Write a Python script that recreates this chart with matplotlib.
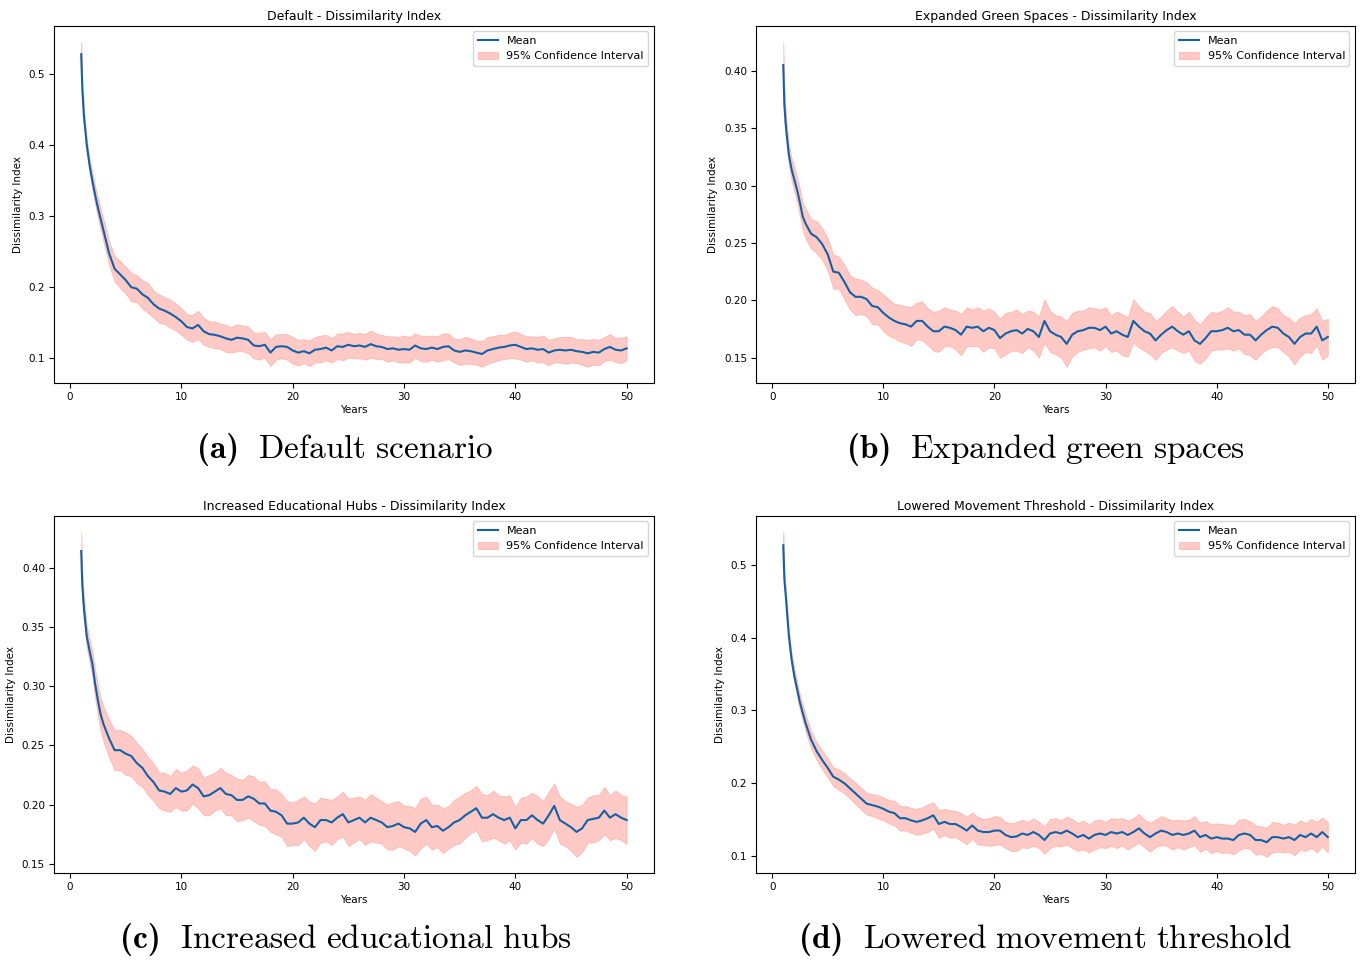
import os
import numpy as np
import matplotlib
matplotlib.use("Agg")
import matplotlib.pyplot as plt
from matplotlib.ticker import MultipleLocator
from matplotlib.font_manager import FontProperties
from matplotlib.offsetbox import TextArea, HPacker, AnnotationBbox

plt.rcParams['mathtext.fontset'] = 'cm'

# time axis (years); finer steps at the start where the curve drops fast
years = [1.0, 1.1, 1.25, 1.5, 1.75, 2.0, 2.25, 2.5, 2.75, 3.0] + list(np.arange(3.5, 50.01, 0.5))

titles = ['Default - Dissimilarity Index',
          'Expanded Green Spaces - Dissimilarity Index',
          'Increased Educational Hubs - Dissimilarity Index',
          'Lowered Movement Threshold - Dissimilarity Index']

cap_tags = ['(a)', '(b)', '(c)', '(d)']
cap_texts = ['Default scenario', 'Expanded green spaces',
             'Increased educational hubs', 'Lowered movement threshold']

mean_default = [
    0.528, 0.480, 0.440, 0.400, 0.372, 0.350, 0.330, 0.312, 0.296, 0.280,
    0.248, 0.226, 0.218, 0.210, 0.200, 0.198, 0.190, 0.185, 0.176, 0.170,
    0.167, 0.163, 0.158, 0.152, 0.144, 0.142, 0.147, 0.138, 0.134, 0.133,
    0.131, 0.128, 0.126, 0.129, 0.128, 0.126, 0.118, 0.117, 0.119, 0.108,
    0.116, 0.117, 0.116, 0.111, 0.108, 0.110, 0.107, 0.112, 0.113, 0.115,
    0.111, 0.117, 0.116, 0.119, 0.117, 0.118, 0.116, 0.120, 0.117, 0.116,
    0.113, 0.114, 0.112, 0.113, 0.112, 0.118, 0.114, 0.113, 0.115, 0.113,
    0.116, 0.117, 0.111, 0.109, 0.111, 0.110, 0.108, 0.106, 0.111, 0.113,
    0.115, 0.116, 0.118, 0.119, 0.116, 0.113, 0.114, 0.112, 0.113, 0.108,
    0.111, 0.112, 0.111, 0.112, 0.110, 0.109, 0.107, 0.109, 0.108, 0.113,
    0.116, 0.112, 0.111, 0.114]
ci_default = [
    0.017, 0.012, 0.010, 0.009, 0.010, 0.012, 0.013, 0.014, 0.015, 0.016,
    0.017, 0.018, 0.019, 0.019, 0.020, 0.019, 0.020, 0.021, 0.019, 0.020,
    0.019, 0.020, 0.019, 0.019, 0.018, 0.019, 0.020, 0.019, 0.018, 0.019,
    0.018, 0.019, 0.018, 0.019, 0.018, 0.019, 0.018, 0.019, 0.018, 0.019,
    0.018, 0.017, 0.018, 0.019, 0.018, 0.017, 0.018, 0.018, 0.019, 0.018,
    0.017, 0.018, 0.019, 0.018, 0.017, 0.018, 0.018, 0.019, 0.018, 0.017,
    0.018, 0.017, 0.018, 0.019, 0.018, 0.017, 0.018, 0.018, 0.017, 0.018,
    0.019, 0.018, 0.017, 0.018, 0.019, 0.018, 0.017, 0.018, 0.019, 0.018,
    0.018, 0.017, 0.018, 0.019, 0.018, 0.018, 0.017, 0.018, 0.019, 0.018,
    0.017, 0.018, 0.019, 0.018, 0.017, 0.018, 0.019, 0.018, 0.018, 0.017,
    0.018, 0.017, 0.018, 0.017]

mean_green = [
    0.405, 0.370, 0.350, 0.327, 0.314, 0.305, 0.296, 0.285, 0.273, 0.267,
    0.258, 0.255, 0.249, 0.240, 0.225, 0.224, 0.216, 0.207, 0.203, 0.203,
    0.201, 0.195, 0.194, 0.189, 0.185, 0.182, 0.180, 0.179, 0.177, 0.182,
    0.182, 0.177, 0.173, 0.173, 0.177, 0.176, 0.174, 0.170, 0.177, 0.176,
    0.177, 0.173, 0.176, 0.174, 0.167, 0.171, 0.173, 0.174, 0.171, 0.175,
    0.173, 0.168, 0.182, 0.173, 0.170, 0.168, 0.162, 0.170, 0.173, 0.174,
    0.176, 0.176, 0.174, 0.177, 0.171, 0.173, 0.170, 0.168, 0.182, 0.177,
    0.173, 0.171, 0.165, 0.170, 0.174, 0.177, 0.173, 0.170, 0.173, 0.165,
    0.162, 0.167, 0.173, 0.173, 0.174, 0.176, 0.173, 0.174, 0.170, 0.170,
    0.165, 0.170, 0.174, 0.177, 0.176, 0.171, 0.168, 0.162, 0.168, 0.171,
    0.171, 0.177, 0.165, 0.168]
ci_green = [
    0.020, 0.014, 0.010, 0.009, 0.010, 0.011, 0.011, 0.012, 0.012, 0.013,
    0.013, 0.014, 0.014, 0.014, 0.015, 0.014, 0.015, 0.015, 0.016, 0.015,
    0.015, 0.016, 0.015, 0.016, 0.016, 0.015, 0.016, 0.016, 0.017, 0.016,
    0.017, 0.016, 0.017, 0.018, 0.017, 0.016, 0.017, 0.018, 0.017, 0.016,
    0.017, 0.018, 0.017, 0.016, 0.017, 0.018, 0.017, 0.018, 0.017, 0.016,
    0.017, 0.018, 0.019, 0.018, 0.017, 0.018, 0.020, 0.019, 0.018, 0.017,
    0.018, 0.017, 0.018, 0.017, 0.016, 0.017, 0.018, 0.017, 0.019, 0.018,
    0.017, 0.018, 0.017, 0.016, 0.017, 0.018, 0.017, 0.016, 0.017, 0.018,
    0.017, 0.018, 0.017, 0.016, 0.017, 0.018, 0.017, 0.016, 0.017, 0.018,
    0.017, 0.016, 0.017, 0.018, 0.017, 0.016, 0.017, 0.018, 0.017, 0.016,
    0.017, 0.016, 0.017, 0.016]

mean_edu = [
    0.414, 0.385, 0.365, 0.342, 0.330, 0.319, 0.302, 0.288, 0.276, 0.268,
    0.256, 0.246, 0.246, 0.243, 0.241, 0.235, 0.231, 0.224, 0.219, 0.212,
    0.211, 0.209, 0.214, 0.211, 0.212, 0.217, 0.214, 0.207, 0.208, 0.211,
    0.214, 0.209, 0.208, 0.204, 0.204, 0.207, 0.205, 0.201, 0.201, 0.195,
    0.194, 0.191, 0.184, 0.184, 0.185, 0.189, 0.184, 0.181, 0.187, 0.187,
    0.185, 0.189, 0.192, 0.185, 0.187, 0.189, 0.185, 0.189, 0.187, 0.185,
    0.181, 0.182, 0.184, 0.181, 0.180, 0.177, 0.184, 0.187, 0.181, 0.182,
    0.178, 0.181, 0.185, 0.187, 0.191, 0.194, 0.197, 0.189, 0.189, 0.192,
    0.189, 0.187, 0.189, 0.180, 0.187, 0.187, 0.191, 0.187, 0.184, 0.191,
    0.199, 0.187, 0.184, 0.181, 0.177, 0.180, 0.187, 0.188, 0.189, 0.195,
    0.189, 0.192, 0.189, 0.187]
ci_edu = [
    0.016, 0.012, 0.010, 0.009, 0.010, 0.011, 0.012, 0.013, 0.014, 0.015,
    0.016, 0.017, 0.017, 0.018, 0.017, 0.017, 0.016, 0.016, 0.016, 0.015,
    0.016, 0.015, 0.016, 0.016, 0.017, 0.016, 0.017, 0.016, 0.017, 0.016,
    0.017, 0.018, 0.017, 0.018, 0.017, 0.018, 0.019, 0.018, 0.019, 0.018,
    0.019, 0.018, 0.019, 0.018, 0.019, 0.018, 0.019, 0.020, 0.019, 0.018,
    0.019, 0.018, 0.019, 0.020, 0.019, 0.018, 0.019, 0.020, 0.019, 0.018,
    0.019, 0.020, 0.019, 0.018, 0.019, 0.020, 0.021, 0.020, 0.019, 0.018,
    0.019, 0.018, 0.019, 0.020, 0.019, 0.018, 0.019, 0.020, 0.019, 0.020,
    0.019, 0.020, 0.019, 0.018, 0.019, 0.020, 0.019, 0.020, 0.019, 0.020,
    0.019, 0.020, 0.019, 0.020, 0.021, 0.020, 0.019, 0.020, 0.019, 0.020,
    0.019, 0.020, 0.019, 0.020]

mean_move = [
    0.527, 0.480, 0.453, 0.403, 0.370, 0.347, 0.329, 0.311, 0.297, 0.283,
    0.260, 0.244, 0.232, 0.221, 0.209, 0.205, 0.200, 0.193, 0.186, 0.179,
    0.172, 0.170, 0.168, 0.165, 0.161, 0.159, 0.152, 0.152, 0.149, 0.147,
    0.149, 0.152, 0.156, 0.144, 0.147, 0.144, 0.144, 0.140, 0.135, 0.142,
    0.135, 0.133, 0.133, 0.135, 0.135, 0.129, 0.126, 0.127, 0.131, 0.129,
    0.133, 0.129, 0.122, 0.131, 0.133, 0.131, 0.135, 0.131, 0.126, 0.129,
    0.124, 0.129, 0.131, 0.129, 0.133, 0.131, 0.133, 0.129, 0.133, 0.138,
    0.131, 0.126, 0.131, 0.135, 0.133, 0.129, 0.131, 0.129, 0.131, 0.135,
    0.126, 0.129, 0.124, 0.126, 0.124, 0.124, 0.122, 0.129, 0.131, 0.129,
    0.122, 0.122, 0.119, 0.126, 0.126, 0.124, 0.126, 0.122, 0.129, 0.126,
    0.131, 0.126, 0.133, 0.126]
ci_move = [
    0.018, 0.012, 0.009, 0.008, 0.009, 0.010, 0.010, 0.011, 0.011, 0.012,
    0.012, 0.012, 0.013, 0.013, 0.013, 0.014, 0.014, 0.014, 0.015, 0.015,
    0.015, 0.015, 0.016, 0.016, 0.016, 0.017, 0.017, 0.017, 0.017, 0.018,
    0.018, 0.019, 0.018, 0.019, 0.018, 0.019, 0.018, 0.019, 0.019, 0.018,
    0.019, 0.018, 0.019, 0.020, 0.019, 0.018, 0.019, 0.020, 0.019, 0.018,
    0.019, 0.018, 0.019, 0.020, 0.019, 0.018, 0.019, 0.020, 0.019, 0.020,
    0.019, 0.020, 0.019, 0.018, 0.019, 0.020, 0.019, 0.020, 0.019, 0.020,
    0.019, 0.020, 0.019, 0.020, 0.019, 0.020, 0.019, 0.020, 0.019, 0.020,
    0.020, 0.019, 0.020, 0.019, 0.020, 0.019, 0.020, 0.021, 0.020, 0.019,
    0.020, 0.019, 0.020, 0.021, 0.020, 0.019, 0.020, 0.021, 0.020, 0.019,
    0.020, 0.021, 0.020, 0.021]

means = [mean_default, mean_green, mean_edu, mean_move]
cis = [ci_default, ci_green, ci_edu, ci_move]
ystep = [0.1, 0.05, 0.05, 0.1]

# axes boxes in figure fractions: left, bottom, width, height
boxes = [[0.0396, 0.601, 0.4405, 0.372],
         [0.5551, 0.601, 0.4398, 0.372],
         [0.0396, 0.0906, 0.4405, 0.372],
         [0.5551, 0.0906, 0.4398, 0.372]]
caption_xy = [(0.2535, 0.532), (0.768, 0.532), (0.254, 0.0215), (0.768, 0.0215)]

# bold Computer Modern for the "(a)" tags, shipped with matplotlib
cmb = FontProperties(fname=os.path.join(matplotlib.get_data_path(), 'fonts', 'ttf', 'cmb10.ttf'),
                     size=24)

fig = plt.figure(figsize=(13.62, 9.6), dpi=100)

for i in range(4):
    ax = fig.add_axes(boxes[i])
    m = np.array(means[i])
    c = np.array(cis[i])
    ax.plot(years, m, color='#1261a6', lw=1.5, label='Mean')
    ax.fill_between(years, m - c, m + c, color='#ff8a80', alpha=0.45, lw=0.6,
                    label='95% Confidence Interval')
    ax.set_title(titles[i], fontsize=9, pad=4)
    ax.set_xlabel('Years', fontsize=7.5, labelpad=2)
    ax.set_ylabel('Dissimilarity Index', fontsize=7.5, labelpad=4)
    ax.xaxis.set_major_locator(MultipleLocator(10))
    ax.yaxis.set_major_locator(MultipleLocator(ystep[i]))
    ax.tick_params(labelsize=7.5, length=3.5, pad=3)
    ax.legend(loc='upper right', fontsize=8, handlelength=1.8)

    # sub-figure caption: bold tag + roman text
    tag = TextArea(cap_tags[i], textprops=dict(fontproperties=cmb))
    body = TextArea(r'$\mathrm{' + cap_texts[i].replace(' ', r'\ ') + '}$',
                    textprops=dict(fontsize=24))
    pack = HPacker(children=[tag, body], align='baseline', pad=0, sep=14)
    ab = AnnotationBbox(pack, caption_xy[i], xycoords='figure fraction',
                        frameon=False, box_alignment=(0.5, 0.5))
    ax.add_artist(ab)

fig.savefig('out.png', dpi=100)
